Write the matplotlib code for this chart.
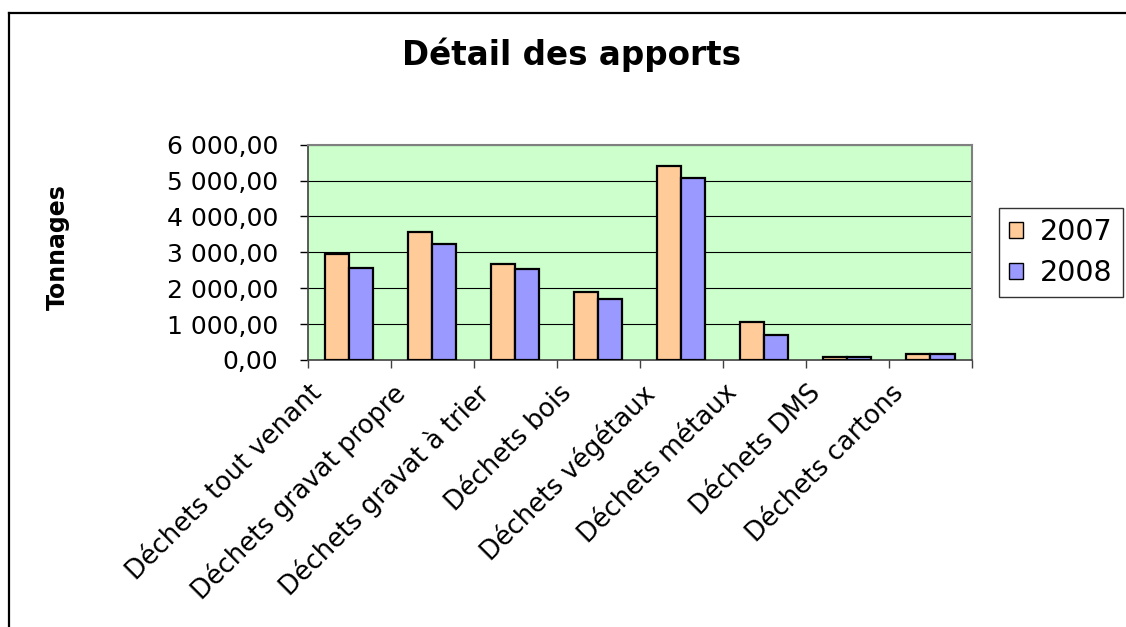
import matplotlib
matplotlib.use("Agg")
import matplotlib.pyplot as plt
import matplotlib.transforms as mtransforms
from matplotlib.lines import Line2D
from matplotlib.ticker import FixedLocator, FuncFormatter
import numpy as np

categories = ["Déchets tout venant", "Déchets gravat propre", "Déchets gravat à trier",
              "Déchets bois", "Déchets végétaux", "Déchets métaux", "Déchets DMS",
              "Déchets cartons"]
values_2007 = [2950, 3580, 2670, 1890, 5410, 1070, 70, 170]
values_2008 = [2570, 3230, 2530, 1700, 5060, 690, 70, 170]
series_labels = ["2007", "2008"]
y_ticks = [0, 1000, 2000, 3000, 4000, 5000, 6000]
title = "Détail des apports"
y_label = "Tonnages"

W, H = 1126, 627
fig = plt.figure(figsize=(W / 100, H / 100), dpi=100)
fig.patch.set_facecolor("white")

def fx(px):
    return px / W

def fy(py):
    return 1 - py / H

ax = fig.add_axes([fx(307.5), fy(360), fx(972) - fx(307.5), fy(144.7) - fy(360)])
ax.set_facecolor("#CCFFCC")

x = np.arange(len(categories))
bw = 0.29
ax.bar(x - bw / 2, values_2007, width=bw, color="#FFCC99", edgecolor="black",
       linewidth=1.6, label=series_labels[0], zorder=3)
ax.bar(x + bw / 2, values_2008, width=bw, color="#9999FF", edgecolor="black",
       linewidth=1.6, label=series_labels[1], zorder=3)

ax.set_xlim(-0.5, len(categories) - 0.5)
ax.set_ylim(0, 6000)
ax.set_axisbelow(True)

# y axis
ax.set_yticks(y_ticks)
ax.yaxis.set_major_formatter(FuncFormatter(
    lambda v, p: f"{v:,.2f}".replace(",", " ").replace(".", ",")))
ax.tick_params(axis="y", direction="out", length=6, width=1, pad=15,
               labelsize=18, colors="black")
ax.grid(axis="y", color="black", linewidth=0.8)

# x axis: labels at centers, ticks at boundaries
ax.set_xticks(x)
ax.set_xticklabels(categories)
ax.xaxis.set_minor_locator(FixedLocator(np.arange(-0.5, len(categories), 1.0)))
ax.tick_params(axis="x", which="major", length=0, pad=0, labelsize=18.5)
ax.tick_params(axis="x", which="minor", direction="out", length=6, width=1,
               color="#404040")
offset = mtransforms.ScaledTranslation(-40 / 100, -20 / 100, fig.dpi_scale_trans)
for lab in ax.get_xticklabels():
    lab.set_rotation(45)
    lab.set_rotation_mode("anchor")
    lab.set_ha("right")
    lab.set_va("top")
    lab.set_transform(lab.get_transform() + offset)

for s in ["top", "right"]:
    ax.spines[s].set_color("#808080")
    ax.spines[s].set_linewidth(1.5)
ax.spines["left"].set_color("#404040")
ax.spines["bottom"].set_color("#404040")
ax.spines["left"].set_linewidth(1.2)
ax.spines["bottom"].set_linewidth(1.2)

# title and y label
fig.text(fx(572), fy(55), title, ha="center", va="center", fontsize=23.5,
         fontweight="bold")
fig.text(fx(58), fy(247), y_label, ha="center", va="center", rotation=90,
         fontsize=17, fontweight="bold")

# legend
leg = ax.legend(loc="upper left", bbox_to_anchor=(fx(999), fy(208)),
                bbox_transform=fig.transFigure, fontsize=20.5, frameon=True,
                fancybox=False, shadow=False, borderaxespad=0, borderpad=0.35,
                handlelength=0.5, handleheight=0.5, handletextpad=0.6,
                labelspacing=0.45)
leg.get_frame().set_edgecolor("black")
leg.get_frame().set_linewidth(1.0)
for p in leg.get_patches():
    p.set_linewidth(1.0)

# outer frame (left and top edges visible)
fig.add_artist(Line2D([fx(9), fx(9)], [fy(13), 0], transform=fig.transFigure,
                      color="black", linewidth=1.6))
fig.add_artist(Line2D([fx(9), 1], [fy(13), fy(13)], transform=fig.transFigure,
                      color="black", linewidth=1.6))

fig.savefig("out.png", dpi=100, facecolor="white")
